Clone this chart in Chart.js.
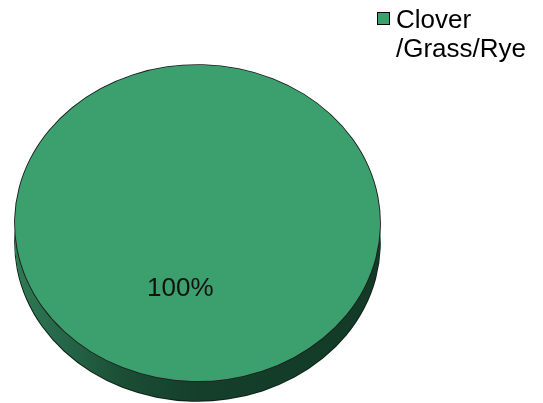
<!DOCTYPE html>
<html>
<head>
<meta charset="utf-8">
<script src="https://cdn.jsdelivr.net/npm/chart.js@4/dist/chart.umd.min.js"></script>
<style>
  html, body { margin: 0; padding: 0; background: #ffffff; }
  #wrap { width: 543px; height: 403px; }
</style>
</head>
<body>
<div id="wrap"><canvas id="c" width="543" height="403"></canvas></div>
<script>
// Crop mix shares (percent of area)
const categories = [['Clover', '/Grass/Rye']];
const shares = [100];
const sliceColors = ['#3c9f6e'];

// Look of the tilted pie
const TILT = 0.866;        // vertical squash of the pie face
const DEPTH = 20;          // rim thickness in px
const LABEL_RADIUS = 0.42; // where the percent label sits, as a fraction of the radius
const FONT = '"Liberation Sans", Arial, Helvetica, sans-serif';

function project(ctx, cx, cy) {
  ctx.translate(cx, cy);
  ctx.scale(1, TILT);
  ctx.translate(-cx, -cy);
}

// copy of an arc element with its own fill and an optional radius change
function ghostOf(arc, fill, grow) {
  const g = Object.create(arc);
  g.options = Object.assign({}, arc.options, { backgroundColor: fill, borderWidth: 0 });
  g.outerRadius = arc.outerRadius + grow;
  return g;
}

const tiltedPie = {
  id: 'tiltedPie',
  beforeDatasetsDraw(chart) {
    const ctx = chart.ctx;
    const meta = chart.getDatasetMeta(0);
    const { x: cx, y: cy, outerRadius: r } = meta.data[0];

    // rim: the slices repeated downwards in a shaded colour
    const shade = ctx.createLinearGradient(cx - r, 0, cx + r, 0);
    shade.addColorStop(0.00, '#2f7b53');
    shade.addColorStop(0.12, '#26684a');
    shade.addColorStop(0.30, '#1b4d35');
    shade.addColorStop(0.50, '#153f2b');
    shade.addColorStop(1.00, '#123a27');

    ctx.save();
    ctx.translate(0, DEPTH);
    project(ctx, cx, cy);
    meta.data.forEach(arc => ghostOf(arc, '#0c2418', 0.8).draw(ctx));
    ctx.restore();

    for (let d = DEPTH; d >= 1; d--) {
      ctx.save();
      ctx.translate(0, d);
      project(ctx, cx, cy);
      meta.data.forEach(arc => ghostOf(arc, shade, d === DEPTH ? -0.4 : 0).draw(ctx));
      ctx.restore();
    }

    // face: the dataset itself, drawn squashed, with a thin dark outline
    ctx.save();
    project(ctx, cx, cy);
    meta.data.forEach(arc => ghostOf(arc, '#1c1c1c', 0.9).draw(ctx));
  },
  afterDatasetsDraw(chart) {
    const ctx = chart.ctx;
    ctx.restore();

    const meta = chart.getDatasetMeta(0);
    const values = chart.data.datasets[0].data;
    const total = values.reduce((a, b) => a + b, 0);

    // percent labels on the face
    ctx.save();
    ctx.font = '26px ' + FONT;
    ctx.fillStyle = '#111111';
    ctx.textAlign = 'center';
    ctx.textBaseline = 'middle';
    meta.data.forEach((arc, i) => {
      const mid = (arc.startAngle + arc.endAngle) / 2;
      const dist = arc.outerRadius * LABEL_RADIUS;
      const lx = arc.x + Math.cos(mid) * dist;
      const ly = arc.y + Math.sin(mid) * dist * TILT;
      ctx.fillText(Math.round(values[i] / total * 100) + '%', lx, ly + 1);
    });
    ctx.restore();

    // legend, top right
    ctx.save();
    ctx.font = '26px ' + FONT;
    ctx.textAlign = 'left';
    ctx.textBaseline = 'alphabetic';
    let top = 12;
    chart.data.labels.forEach((label, i) => {
      const lines = Array.isArray(label) ? label : [label];
      ctx.fillStyle = sliceColors[i];
      ctx.fillRect(377.5, top + 0.5, 12, 12);
      ctx.strokeStyle = '#000000';
      ctx.lineWidth = 1;
      ctx.strokeRect(377.5, top + 0.5, 12, 12);
      ctx.fillStyle = '#000000';
      lines.forEach((line, j) => {
        ctx.fillText(line, 396, top + 16 + j * 29);
      });
      top += lines.length * 29 + 10;
    });
    ctx.restore();
  }
};

new Chart(document.getElementById('c'), {
  type: 'pie',
  data: {
    labels: categories,
    datasets: [{
      data: shares,
      backgroundColor: sliceColors,
      borderWidth: 0,
      radius: 182.5,
      clip: false
    }]
  },
  options: {
    responsive: false,
    animation: false,
    events: [],
    rotation: 13,
    layout: { padding: { left: 15, right: 163, top: 43, bottom: 0 } },
    plugins: {
      legend: { display: false },
      tooltip: { enabled: false },
      title: { display: false }
    }
  },
  plugins: [tiltedPie]
});
</script>
</body>
</html>
